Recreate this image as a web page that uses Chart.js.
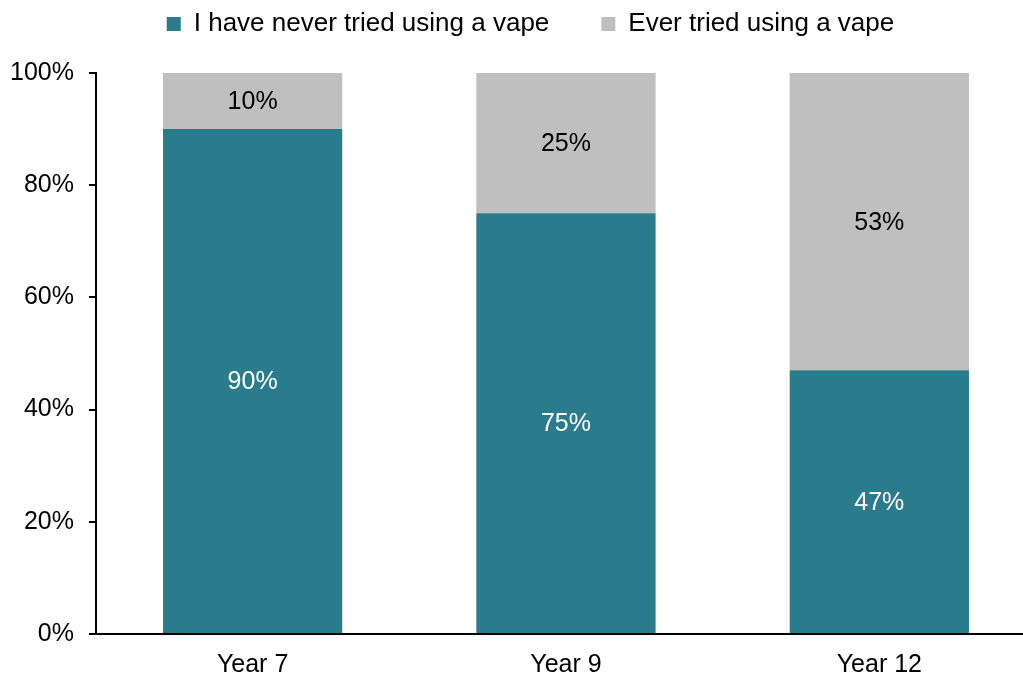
<!DOCTYPE html>
<html>
<head>
<meta charset="utf-8">
<script src="https://cdn.jsdelivr.net/npm/chart.js@4/dist/chart.umd.min.js"></script>
<style>
  html, body { margin: 0; padding: 0; background: #fff; overflow: hidden; }
  #wrap { width: 1060px; height: 675px; }
</style>
</head>
<body>
<div id="wrap"><canvas id="vaping"></canvas></div>
<script>
  const years = ['Year 7', 'Year 9', 'Year 12'];
  const neverTried = [90, 75, 47];
  const everTried = [10, 25, 53];
  const yTicks = [0, 20, 40, 60, 80, 100];

  const TEAL = '#2a7b8c';
  const GREY = '#bfbfbf';
  const FONT = 'Liberation Sans, Arial, sans-serif';

  Chart.defaults.font.family = FONT;
  Chart.defaults.color = '#000';

  // extra room between the legend and the plot, and nudge the legend right
  const legendGap = {
    id: 'legendGap',
    beforeInit(chart) {
      const fit = chart.legend.fit;
      chart.legend.fit = function () {
        fit.call(this);
        this.height += 26;
      };
    },
    afterLayout(chart) {
      chart.legend.left += 15;
      chart.legend.right += 15;
    }
  };

  // writes the value in the middle of each stacked segment
  const segmentLabels = {
    id: 'segmentLabels',
    afterDatasetsDraw(chart) {
      const ctx = chart.ctx;
      ctx.save();
      ctx.font = '25px ' + FONT;
      ctx.textAlign = 'center';
      ctx.textBaseline = 'middle';
      chart.data.datasets.forEach((ds, i) => {
        const meta = chart.getDatasetMeta(i);
        meta.data.forEach((bar, j) => {
          const props = bar.getProps(['x', 'y', 'base'], true);
          ctx.fillStyle = ds.labelColor;
          ctx.fillText(ds.data[j] + '%', props.x, (props.y + props.base) / 2 + 1);
        });
      });
      ctx.restore();
    }
  };

  new Chart(document.getElementById('vaping'), {
    type: 'bar',
    data: {
      labels: years,
      datasets: [{
        label: 'I have never tried using a vape',
        data: neverTried,
        backgroundColor: TEAL,
        labelColor: '#fff'
      }, {
        label: 'Ever tried using a vape',
        data: everTried,
        backgroundColor: GREY,
        labelColor: '#000'
      }]
    },
    options: {
      responsive: true,
      maintainAspectRatio: false,
      animation: false,
      datasets: {
        bar: { barPercentage: 0.572, categoryPercentage: 1.0 }
      },
      layout: { padding: { left: -5, right: 24, top: -41, bottom: -13 } },
      plugins: {
        tooltip: { enabled: false },
        legend: {
          position: 'top',
          labels: {
            boxWidth: 14,
            boxHeight: 14,
            padding: 52,
            font: { size: 26, family: FONT },
            color: '#000'
          }
        }
      },
      scales: {
        x: {
          stacked: true,
          grid: { display: false },
          border: { display: true, color: '#000', width: 2 },
          ticks: { font: { size: 25 }, padding: 8, color: '#000' }
        },
        y: {
          stacked: true,
          min: 0,
          max: 100,
          afterBuildTicks(axis) {
            axis.ticks = yTicks.map(v => ({ value: v }));
          },
          grid: { drawOnChartArea: false, drawTicks: true, tickLength: 7, color: '#000', lineWidth: 2 },
          border: { display: true, color: '#000', width: 2 },
          ticks: {
            font: { size: 25 },
            padding: 15,
            color: '#000',
            callback: v => v + '%'
          }
        }
      }
    },
    plugins: [legendGap, segmentLabels]
  });
</script>
</body>
</html>
